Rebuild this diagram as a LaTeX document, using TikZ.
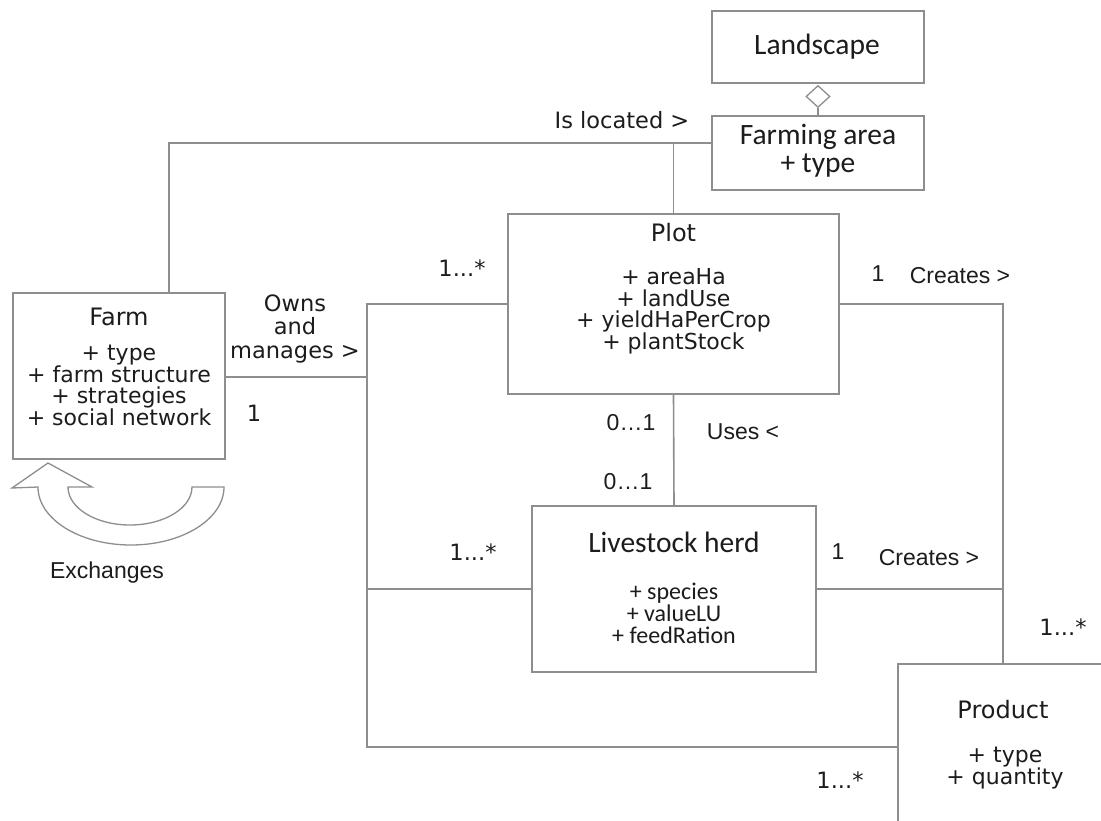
\documentclass[tikz,border=0pt]{standalone}
\usepackage{fontspec}
\setmainfont{DejaVu Sans}
\newfontfamily\arialfont{Liberation Sans}
\newfontfamily\calfont{Carlito}
\usetikzlibrary{shapes.geometric, positioning}
\definecolor{umlgray}{HTML}{8E8E8E}
\definecolor{umltext}{HTML}{1C1C1C}
\tikzstyle{classbox} = [rectangle, draw=umlgray, line width=1.6pt, fill=white, inner sep=0pt]
\tikzstyle{aggr} = [diamond, draw=umlgray, line width=1.3pt, fill=white, inner sep=0pt, minimum width=24pt, minimum height=22pt]
\tikzstyle{link} = [draw=umlgray, line width=1.6pt]
\tikzstyle{title} = [inner sep=0pt, text=umltext, font=\fontsize{24}{24}\selectfont]
\tikzstyle{attr} = [align=center, inner sep=0pt, text=umltext, font=\fontsize{22}{21.5}\selectfont]
\tikzstyle{attrcal} = [align=center, inner sep=0pt, text=umltext, font=\calfont\fontsize{29.5}{28}\selectfont]
\tikzstyle{rolelbl} = [align=center, inner sep=0pt, text=umltext, font=\fontsize{22.5}{23.5}\selectfont]
\tikzstyle{verblbl} = [inner sep=0pt, text=umltext, font=\arialfont\fontsize{23}{23}\selectfont]

\begin{document}
\begin{tikzpicture}[x=1pt, y=-1pt]
            \useasboundingbox (0,0) rectangle (1101,820);
            % Nodes
            \node (landscape) [classbox, minimum width=212pt, minimum height=72pt] at (818,47) {};
            \node (agg) [aggr, below=1pt of landscape] {};
            \node (farming) [classbox, minimum width=212pt, minimum height=74pt] at (818,153) {};
            \node (plot) [classbox, minimum width=331pt, minimum height=180pt] at (673.5,304) {};
            \node (farm) [classbox, minimum width=212pt, minimum height=166pt] at (119,376) {};
            \node (livestock) [classbox, minimum width=284pt, minimum height=166pt] at (674,589) {};
            \node (product) [classbox, minimum width=210pt, minimum height=166pt] at (1003,747) {};

            \node (landscape_txt) [attrcal] at (817,47) {Landscape};
            \node (farming_txt) [attrcal] at (818,151) {Farming area\\+ type};
            \node (plot_title) [title] at (673.5,233) {Plot};
            \node (plot_attr) [attr] at (673.5,311.5) {+ areaHa\\+ landUse\\+ yieldHaPerCrop\\+ plantStock};
            \node (farm_title) [title] at (119,317) {Farm};
            \node (farm_attr) [attr] at (119,385.5) {+ type\\+ farm structure\\+ strategies\\+ social network};
            \node (livestock_title) [attrcal] at (674,542) {Livestock herd};
            \node (livestock_attr) [attrcal, font=\calfont\fontsize{24}{22}\selectfont] at (674,613) {+ species\\+ valueLU\\+ feedRation};
            \node (product_title) [title] at (1003,710) {Product};
            \node (product_attr) [attr, font=\fontsize{22}{20}\selectfont] at (1005,768) {+ type\\+ quantity};

            % Labels
            \node (located_lbl) [rolelbl] at (622,120) {Is located >};
            \node (owns_lbl) [rolelbl] at (295,328.5) {Owns\\and\\manages >};
            \node (farm_mult) [rolelbl] at (254,413) {1};
            \node (plot_mult) [rolelbl] at (462,268) {1...*};
            \node (herd_mult) [rolelbl] at (473,552) {1...*};
            \node (prod_mult) [rolelbl] at (1063,627) {1...*};
            \node (own_prod_mult) [rolelbl] at (840,780) {1...*};
            \node (uses_top) [verblbl] at (631,423) {0…1};
            \node (uses_bot) [verblbl] at (628,482) {0…1};
            \node (uses_lbl) [verblbl] at (743,432) {Uses <};
            \node (plot_one) [verblbl] at (878,274) {1};
            \node (plot_creates) [verblbl] at (960,276) {Creates >};
            \node (herd_one) [verblbl] at (838,552) {1};
            \node (herd_creates) [verblbl] at (929,558) {Creates >};
            \node (exch_lbl) [verblbl] at (107,573) {Exchanges};

            % Edges
            \coordinate (locbend) at (169,143);
            \coordinate (trunk) at (367,377);
            \draw [link] (agg.south) -- (farming.north);
            \draw [link] (farm.north -| locbend) -- (locbend) -- (farming.west |- locbend);
            \draw [link] (plot.north |- locbend) -- (plot.north);
            \draw [link] (farm.east |- trunk) -- (trunk);
            \draw [link] (plot.west) -| (trunk |- product.west) -- (product.west);
            \draw [link] (trunk |- livestock.west) -- (livestock.west);
            \draw [link] (plot.south) -- (livestock.north);
            \draw [link] (plot.east) -| (product.north);
            \draw [link] (livestock.east) -- (livestock.east -| product.north);

            % Exchanges loop
            \draw [draw=umlgray, line width=1.3pt, fill=white]
                (224,487) arc[start angle=0, end angle=180, x radius=93, y radius=58]
                -- (12,488) -- (48,463) -- (92,487) -- (68,487)
                arc[start angle=180, end angle=0, x radius=62, y radius=38]
                -- cycle;
        \end{tikzpicture}
\end{document}
